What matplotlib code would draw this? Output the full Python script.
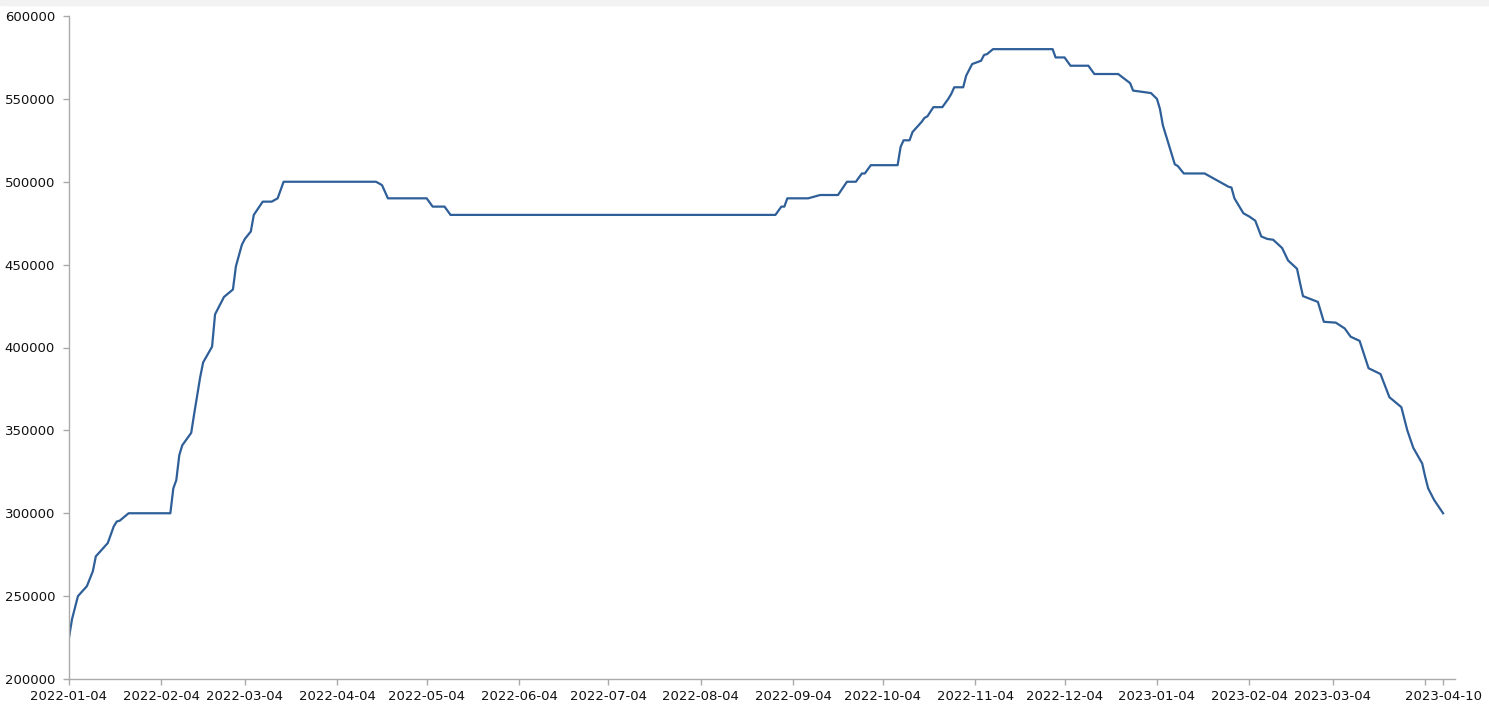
import matplotlib
matplotlib.use("Agg")
import matplotlib.pyplot as plt
import matplotlib.dates as mdates
from matplotlib.patches import Rectangle
import pandas as pd

# breakpoints of the series (date, value)
dates = [
	"2022-01-04", "2022-01-05", "2022-01-07", "2022-01-10", "2022-01-12", "2022-01-13",
	"2022-01-17", "2022-01-19", "2022-01-20", "2022-01-21", "2022-01-24", "2022-02-07",
	"2022-02-08", "2022-02-09", "2022-02-10", "2022-02-11", "2022-02-14", "2022-02-15",
	"2022-02-17", "2022-02-18", "2022-02-21", "2022-02-22", "2022-02-25", "2022-02-28",
	"2022-03-01", "2022-03-03", "2022-03-04", "2022-03-06", "2022-03-07", "2022-03-10",
	"2022-03-13", "2022-03-15", "2022-03-17", "2022-04-17", "2022-04-19", "2022-04-21",
	"2022-05-04", "2022-05-06", "2022-05-10", "2022-05-12", "2022-08-29", "2022-08-31",
	"2022-09-01", "2022-09-02", "2022-09-09", "2022-09-13", "2022-09-19", "2022-09-22",
	"2022-09-25", "2022-09-27", "2022-09-28", "2022-09-30", "2022-10-09", "2022-10-10",
	"2022-10-11", "2022-10-13", "2022-10-14", "2022-10-17", "2022-10-18", "2022-10-19",
	"2022-10-21", "2022-10-24", "2022-10-26", "2022-10-27", "2022-10-28", "2022-10-31",
	"2022-11-01", "2022-11-03", "2022-11-06", "2022-11-07", "2022-11-08", "2022-11-10",
	"2022-11-30", "2022-12-01", "2022-12-04", "2022-12-06", "2022-12-12", "2022-12-14",
	"2022-12-22", "2022-12-26", "2022-12-27", "2023-01-02", "2023-01-04", "2023-01-05",
	"2023-01-06", "2023-01-10", "2023-01-11", "2023-01-13", "2023-01-20", "2023-01-28",
	"2023-01-29", "2023-01-30", "2023-02-02", "2023-02-04", "2023-02-06", "2023-02-08",
	"2023-02-10", "2023-02-12", "2023-02-15", "2023-02-17", "2023-02-20", "2023-02-21",
	"2023-02-22", "2023-02-27", "2023-03-01", "2023-03-05", "2023-03-08", "2023-03-10",
	"2023-03-13", "2023-03-16", "2023-03-20", "2023-03-23", "2023-03-27", "2023-03-29",
	"2023-03-31", "2023-04-03", "2023-04-04", "2023-04-05", "2023-04-07", "2023-04-10",
]
values = [
	225000, 236000, 250000, 256000, 265000, 274000,
	282000, 292000, 295000, 295500, 300000, 300000,
	315000, 320000, 335000, 341000, 348500, 360000,
	382000, 391000, 400500, 420000, 430500, 435000,
	449000, 462000, 465500, 470000, 480000, 488000,
	488000, 490000, 500000, 500000, 498000, 490000,
	490000, 485000, 485000, 480000, 480000, 485000,
	485000, 490000, 490000, 492000, 492000, 500000,
	500000, 505000, 505000, 510000, 510000, 521000,
	525000, 525000, 530000, 536000, 538500, 539500,
	545000, 545000, 550000, 553000, 557000, 557000,
	564000, 571000, 573000, 576500, 577000, 580000,
	580000, 575000, 575000, 570000, 570000, 565000,
	565000, 559500, 555000, 553500, 550000, 544000,
	534000, 510500, 509500, 505000, 505000, 497000,
	496500, 490000, 481000, 479000, 476500, 467000,
	465500, 465000, 460000, 452500, 447500, 439000,
	431000, 427500, 415500, 415000, 411500, 406500,
	404000, 387500, 384000, 370000, 364000, 350000,
	339500, 330000, 322000, 315000, 308000, 300000,
]

tick_dates = [
	"2022-01-04", "2022-02-04", "2022-03-04", "2022-04-04", "2022-05-04", "2022-06-04",
	"2022-07-04", "2022-08-04", "2022-09-04", "2022-10-04", "2022-11-04", "2022-12-04",
	"2023-01-04", "2023-02-04", "2023-03-04", "2023-04-04", "2023-04-10",
]
tick_labels = [d if d != "2023-04-04" else "" for d in tick_dates]
y_ticks = [200000, 250000, 300000, 350000, 400000, 450000, 500000, 550000, 600000]

x = pd.to_datetime(dates)

fig = plt.figure(figsize=(14.89, 7.16), dpi=100)
fig.patches.append(Rectangle((0, 0.993), 1, 0.007, transform=fig.transFigure,
	color="#f2f2f2", zorder=0))
ax = fig.add_axes([69/1489, 1-679/716, (1455-69)/1489, (679-16)/716])

ax.plot(x, values, color="#2f5f98", lw=1.6, solid_joinstyle="round")

ax.set_xlim(pd.Timestamp("2022-01-04"), pd.Timestamp("2023-04-14"))
ax.set_ylim(200000, 600000)
ax.set_yticks(y_ticks)
ax.set_yticklabels([str(v) for v in y_ticks])
ax.set_xticks(pd.to_datetime(tick_dates))
ax.set_xticklabels(tick_labels)

for s in ["top", "right"]:
	ax.spines[s].set_visible(False)
for s in ["left", "bottom"]:
	ax.spines[s].set_color("#aaaaaa")
	ax.spines[s].set_linewidth(1)

ax.tick_params(axis="both", colors="#aaaaaa", length=4, width=1, labelcolor="#111111", labelsize=9.5)
ax.tick_params(axis="y", pad=6)
ax.tick_params(axis="x", pad=4)

fig.savefig("out.png", dpi=100)
